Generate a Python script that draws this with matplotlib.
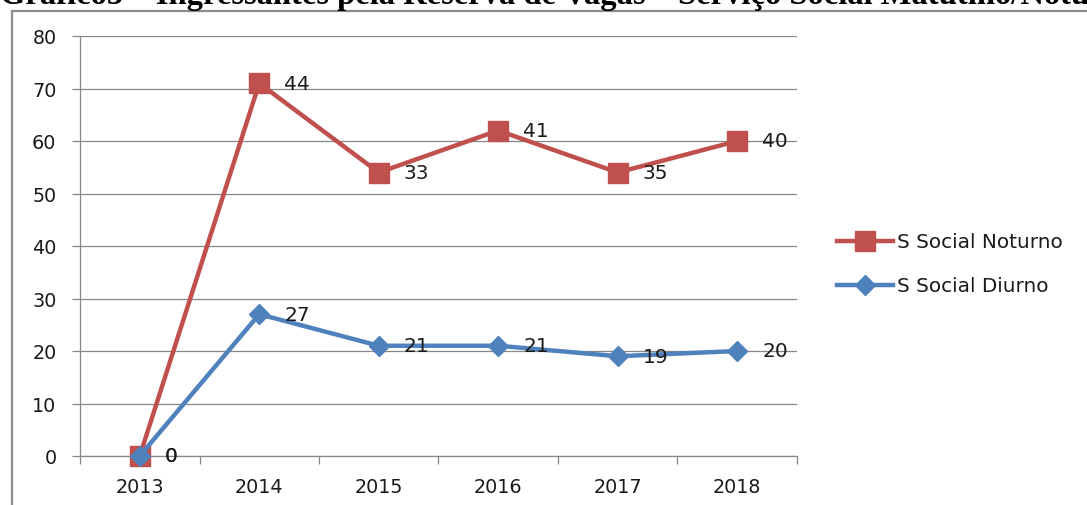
import matplotlib
matplotlib.use("Agg")
import matplotlib.pyplot as plt
from matplotlib.patches import Rectangle
import numpy as np

years = ["2013", "2014", "2015", "2016", "2017", "2018"]
diurno = [0, 27, 21, 21, 19, 20]
noturno = [0, 44, 33, 41, 35, 40]
yticks = [0, 10, 20, 30, 40, 50, 60, 70, 80]
title = "Gráfico5 – Ingressantes pela Reserva de Vagas – Serviço Social Matutino/Noturno"

W, H = 1087, 506
fig = plt.figure(figsize=(W / 100, H / 100), dpi=100)
plt.rcParams['font.family'] = ['DejaVu Sans']

# outer chart frame
fig.patches.append(Rectangle((12 / W, -0.1), 1.2, 1 - 12 / H + 0.1, transform=fig.transFigure,
                             fill=False, edgecolor='#8c8c8c', linewidth=1.6, zorder=0))

fig.text(0.0, 1 - 4 / H, title, family='Liberation Serif', fontweight='bold',
         fontsize=23.5, va='baseline', ha='left', color='black')

ax = fig.add_axes([80 / W, 1 - 457 / H, (797 - 80) / W, (457 - 37) / H])
x = np.arange(len(years))
stack = [d + n for d, n in zip(diurno, noturno)]

grid_c = '#878787'
for s in ['top', 'right']:
    ax.spines[s].set_visible(False)
for s in ['left', 'bottom']:
    ax.spines[s].set_color(grid_c)
    ax.spines[s].set_linewidth(0.9)

ax.set_ylim(0, 80)
ax.set_xlim(-0.5, len(years) - 0.5)
ax.set_yticks(yticks)
ax.yaxis.grid(True, color=grid_c, linewidth=0.9)
ax.set_axisbelow(True)
ax.tick_params(axis='y', length=6, color=grid_c, width=0.9, pad=11, labelsize=13.8, labelcolor='#1a1a1a')
ax.set_xticks(x)
ax.set_xticklabels(years)
ax.set_xticks(np.arange(-0.5, len(years)), minor=True)
ax.tick_params(axis='x', which='major', length=0, pad=15, labelsize=13.8, labelcolor='#1a1a1a')
ax.tick_params(axis='x', which='minor', length=6, color=grid_c, width=0.9)

red = '#C0504D'
blue = '#4F81BD'
l1, = ax.plot(x, stack, color=red, linewidth=3.2, marker='s', markersize=14,
              label='S Social Noturno', zorder=3, clip_on=False)
l2, = ax.plot(x, diurno, color=blue, linewidth=3.2, marker='D', markersize=10.5,
              label='S Social Diurno', zorder=4, clip_on=False)

for xi, yv, lab in zip(x, stack, noturno):
    ax.annotate(str(lab), (xi, yv), xytext=(18, 0), textcoords='offset points',
                ha='left', va='center', fontsize=14.5, color='#1a1a1a', zorder=5)
for xi, yv, lab in zip(x, diurno, diurno):
    ax.annotate(str(lab), (xi, yv), xytext=(18, 0), textcoords='offset points',
                ha='left', va='center', fontsize=14.5, color='#1a1a1a', zorder=5)

fig.legend(handles=[l1, l2], loc='center left', bbox_to_anchor=(837 / W, 1 - 265 / H),
           frameon=False, fontsize=14.4, handlelength=2.8, handletextpad=0.2,
           labelspacing=1.25, borderpad=0, borderaxespad=0, labelcolor='#1a1a1a')

fig.savefig('out.png', dpi=100)
